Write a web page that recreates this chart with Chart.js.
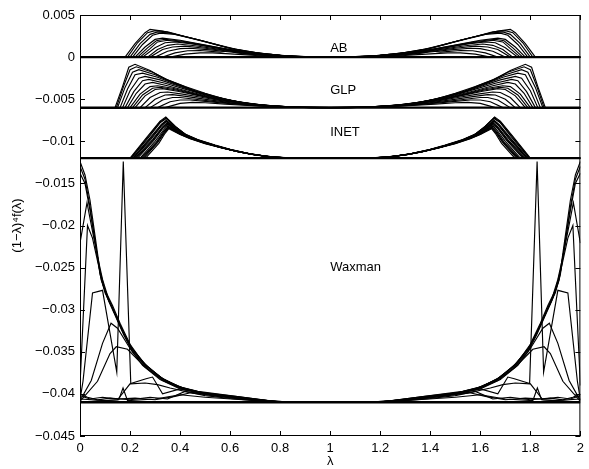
<!DOCTYPE html>
<html>
<head>
<meta charset="utf-8">
<script src="https://cdn.jsdelivr.net/npm/chart.js@4.4.1/dist/chart.umd.min.js"></script>
<style>
  body { margin: 0; background: #fff; }
  canvas { display: block; }
</style>
</head>
<body>
<canvas id="specChart" width="589" height="469"></canvas>
<script>
// axis ticks
const xTicks = [0, 0.2, 0.4, 0.6, 0.8, 1, 1.2, 1.4, 1.6, 1.8, 2];
const xTickLabels = ['0', '0.2', '0.4', '0.6', '0.8', '1', '1.2', '1.4', '1.6', '1.8', '2'];
const yTicks = [0.005, 0, -0.005, -0.01, -0.015, -0.02, -0.025, -0.03, -0.035, -0.04, -0.045];
const yTickLabels = ['0.005', '0', '\u22120.005', '\u22120.01', '\u22120.015', '\u22120.02', '\u22120.025', '\u22120.03', '\u22120.035', '\u22120.04', '\u22120.045'];

// each model is shifted down to its own baseline; curve values are in 1e-3 above it
const groupNames = ['AB', 'GLP', 'INET', 'Waxman'];
const groupBase = [0, -0.006, -0.012, -0.041];
const labelY = [0.001, -0.004, -0.009, -0.025];

// [lambda, value] pairs
const abCurves = [
    [[0,0],[0.18,0],[0.22,1.6],[0.26,2.9],[0.28,3.3],[0.33,3.1],[0.41,2.5],[0.48,2.0],[0.55,1.4],[0.62,0.9],[0.7,0.5],[0.8,0.2],[0.9,0.05],[1.1,0.05],[1.2,0.2],[1.3,0.5],[1.38,0.9],[1.45,1.4],[1.52,2.0],[1.59,2.5],[1.67,3.1],[1.72,3.3],[1.74,2.9],[1.78,1.6],[1.82,0],[2,0]],
    [[0,0],[0.19,0],[0.23,1.7],[0.27,2.9],[0.3,3.15],[0.35,3.0],[0.42,2.45],[0.5,1.85],[0.58,1.2],[0.66,0.7],[0.75,0.35],[0.85,0.1],[1,0],[1.15,0.1],[1.25,0.35],[1.34,0.7],[1.42,1.2],[1.5,1.85],[1.58,2.45],[1.65,3.0],[1.7,3.15],[1.73,2.9],[1.77,1.7],[1.81,0],[2,0]],
    [[0,0],[0.2,0],[0.24,1.6],[0.28,2.7],[0.31,3.0],[0.36,2.85],[0.44,2.3],[0.52,1.7],[0.6,1.05],[0.7,0.55],[0.8,0.2],[0.9,0.04],[1.1,0.04],[1.2,0.2],[1.3,0.55],[1.4,1.05],[1.48,1.7],[1.56,2.3],[1.64,2.85],[1.69,3.0],[1.72,2.7],[1.76,1.6],[1.8,0],[2,0]],
    [[0,0],[0.21,0],[0.25,1.5],[0.29,2.6],[0.32,2.85],[0.38,2.7],[0.45,2.2],[0.53,1.6],[0.62,0.95],[0.72,0.45],[0.82,0.15],[0.92,0.02],[1.08,0.02],[1.18,0.15],[1.28,0.45],[1.38,0.95],[1.47,1.6],[1.55,2.2],[1.62,2.7],[1.68,2.85],[1.71,2.6],[1.75,1.5],[1.79,0],[2,0]],
    [[0,0],[0.22,0],[0.26,1.2],[0.3,2.1],[0.33,2.25],[0.4,2.0],[0.48,1.55],[0.56,1.1],[0.65,0.65],[0.75,0.3],[0.85,0.1],[0.95,0],[1.05,0],[1.15,0.1],[1.25,0.3],[1.35,0.65],[1.44,1.1],[1.52,1.55],[1.6,2.0],[1.67,2.25],[1.7,2.1],[1.74,1.2],[1.78,0],[2,0]],
    [[0,0],[0.23,0],[0.27,1.1],[0.305,1.95],[0.34,2.12],[0.41,1.88],[0.49,1.45],[0.58,0.98],[0.67,0.55],[0.77,0.24],[0.87,0.07],[0.96,0],[1.04,0],[1.13,0.07],[1.23,0.24],[1.33,0.55],[1.42,0.98],[1.51,1.45],[1.59,1.88],[1.66,2.12],[1.695,1.95],[1.73,1.1],[1.77,0],[2,0]],
    [[0,0],[0.24,0],[0.28,1.0],[0.31,1.8],[0.35,2.0],[0.42,1.75],[0.5,1.35],[0.6,0.85],[0.7,0.45],[0.8,0.18],[0.9,0.03],[1.1,0.03],[1.2,0.18],[1.3,0.45],[1.4,0.85],[1.5,1.35],[1.58,1.75],[1.65,2.0],[1.69,1.8],[1.72,1.0],[1.76,0],[2,0]],
    [[0,0],[0.25,0],[0.3,1.1],[0.34,1.7],[0.38,1.8],[0.45,1.55],[0.53,1.15],[0.62,0.7],[0.72,0.35],[0.82,0.12],[0.92,0],[1.08,0],[1.18,0.12],[1.28,0.35],[1.38,0.7],[1.47,1.15],[1.55,1.55],[1.62,1.8],[1.66,1.7],[1.7,1.1],[1.75,0],[2,0]],
    [[0,0],[0.27,0],[0.31,0.9],[0.35,1.4],[0.39,1.55],[0.46,1.35],[0.55,0.95],[0.65,0.55],[0.75,0.25],[0.85,0.08],[0.95,0],[1.05,0],[1.15,0.08],[1.25,0.25],[1.35,0.55],[1.45,0.95],[1.54,1.35],[1.61,1.55],[1.65,1.4],[1.69,0.9],[1.73,0],[2,0]],
    [[0,0],[0.28,0],[0.33,0.9],[0.37,1.2],[0.42,1.3],[0.5,1.05],[0.58,0.75],[0.68,0.4],[0.78,0.15],[0.88,0.03],[1.12,0.03],[1.22,0.15],[1.32,0.4],[1.42,0.75],[1.5,1.05],[1.58,1.3],[1.63,1.2],[1.67,0.9],[1.72,0],[2,0]],
    [[0,0],[0.3,0],[0.35,0.7],[0.4,1.0],[0.44,1.05],[0.52,0.85],[0.6,0.6],[0.7,0.3],[0.8,0.1],[0.9,0],[1.1,0],[1.2,0.1],[1.3,0.3],[1.4,0.6],[1.48,0.85],[1.56,1.05],[1.6,1.0],[1.65,0.7],[1.7,0],[2,0]],
    [[0,0],[0.33,0],[0.38,0.5],[0.43,0.75],[0.48,0.78],[0.56,0.6],[0.6,0.75],[0.62,0.55],[0.65,0.4],[0.75,0.18],[0.85,0.05],[0.95,0],[1.05,0],[1.15,0.05],[1.25,0.18],[1.35,0.4],[1.38,0.55],[1.4,0.75],[1.44,0.6],[1.52,0.78],[1.57,0.75],[1.62,0.5],[1.67,0],[2,0]],
    [[0,0],[0.36,0],[0.42,0.35],[0.48,0.5],[0.53,0.5],[0.6,0.38],[0.7,0.2],[0.76,0.3],[0.8,0.08],[0.9,0],[1.1,0],[1.2,0.08],[1.24,0.3],[1.3,0.2],[1.4,0.38],[1.47,0.5],[1.52,0.5],[1.58,0.35],[1.64,0],[2,0]]
];

const glpCurves = [
    [[0,0],[0.14,0],[0.17,2.5],[0.195,4.8],[0.22,5.15],[0.28,4.4],[0.34,3.4],[0.41,2.6],[0.47,1.85],[0.54,1.25],[0.61,0.8],[0.67,0.45],[0.75,0.2],[0.85,0.05],[1,0],[1.15,0.05],[1.25,0.2],[1.33,0.45],[1.39,0.8],[1.46,1.25],[1.53,1.85],[1.59,2.6],[1.66,3.4],[1.72,4.4],[1.78,5.15],[1.805,4.8],[1.83,2.5],[1.86,0],[2,0]],
    [[0,0],[0.145,0],[0.175,2.6],[0.2,4.5],[0.225,4.85],[0.29,4.2],[0.35,3.3],[0.42,2.5],[0.5,1.7],[0.58,1.0],[0.66,0.5],[0.76,0.2],[0.88,0.03],[1.12,0.03],[1.24,0.2],[1.34,0.5],[1.42,1.0],[1.5,1.7],[1.58,2.5],[1.65,3.3],[1.71,4.2],[1.775,4.85],[1.8,4.5],[1.825,2.6],[1.855,0],[2,0]],
    [[0,0],[0.15,0],[0.18,2.4],[0.21,4.2],[0.235,4.5],[0.3,3.9],[0.37,3.0],[0.45,2.1],[0.53,1.4],[0.61,0.8],[0.7,0.4],[0.8,0.12],[0.9,0.02],[1.1,0.02],[1.2,0.12],[1.3,0.4],[1.39,0.8],[1.47,1.4],[1.55,2.1],[1.63,3.0],[1.7,3.9],[1.765,4.5],[1.79,4.2],[1.82,2.4],[1.85,0],[2,0]],
    [[0,0],[0.16,0],[0.19,2.2],[0.22,3.9],[0.25,4.1],[0.31,3.6],[0.38,2.8],[0.46,1.95],[0.55,1.2],[0.64,0.65],[0.74,0.28],[0.85,0.06],[1,0],[1.15,0.06],[1.26,0.28],[1.36,0.65],[1.45,1.2],[1.54,1.95],[1.62,2.8],[1.69,3.6],[1.75,4.1],[1.78,3.9],[1.81,2.2],[1.84,0],[2,0]],
    [[0,0],[0.17,0],[0.2,2.0],[0.235,3.5],[0.26,3.7],[0.32,3.3],[0.4,2.5],[0.48,1.7],[0.57,1.05],[0.66,0.55],[0.76,0.22],[0.87,0.04],[1.13,0.04],[1.24,0.22],[1.34,0.55],[1.43,1.05],[1.52,1.7],[1.6,2.5],[1.68,3.3],[1.74,3.7],[1.765,3.5],[1.8,2.0],[1.83,0],[2,0]],
    [[0,0],[0.18,0],[0.215,1.9],[0.25,3.2],[0.275,3.35],[0.34,2.9],[0.42,2.2],[0.5,1.5],[0.59,0.9],[0.68,0.45],[0.78,0.18],[0.9,0.02],[1.1,0.02],[1.22,0.18],[1.32,0.45],[1.41,0.9],[1.5,1.5],[1.58,2.2],[1.66,2.9],[1.725,3.35],[1.75,3.2],[1.785,1.9],[1.82,0],[2,0]],
    [[0,0],[0.19,0],[0.225,1.7],[0.26,2.8],[0.29,3.0],[0.35,2.6],[0.43,1.95],[0.51,1.35],[0.6,0.8],[0.7,0.38],[0.8,0.14],[0.92,0],[1.08,0],[1.2,0.14],[1.3,0.38],[1.4,0.8],[1.49,1.35],[1.57,1.95],[1.65,2.6],[1.71,3.0],[1.74,2.8],[1.775,1.7],[1.81,0],[2,0]],
    [[0,0],[0.2,0],[0.24,1.6],[0.28,2.5],[0.31,2.6],[0.37,2.3],[0.45,1.7],[0.53,1.15],[0.62,0.68],[0.72,0.3],[0.82,0.1],[0.93,0],[1.07,0],[1.18,0.1],[1.28,0.3],[1.38,0.68],[1.47,1.15],[1.55,1.7],[1.63,2.3],[1.69,2.6],[1.72,2.5],[1.76,1.6],[1.8,0],[2,0]],
    [[0,0],[0.21,0],[0.25,1.5],[0.29,2.3],[0.32,2.42],[0.38,2.12],[0.46,1.58],[0.54,1.06],[0.63,0.62],[0.73,0.27],[0.84,0.08],[0.96,0],[1.04,0],[1.16,0.08],[1.27,0.27],[1.37,0.62],[1.46,1.06],[1.54,1.58],[1.62,2.12],[1.68,2.42],[1.71,2.3],[1.75,1.5],[1.79,0],[2,0]],
    [[0,0],[0.22,0],[0.26,1.4],[0.3,2.15],[0.33,2.25],[0.39,1.95],[0.47,1.45],[0.55,0.98],[0.64,0.55],[0.74,0.24],[0.85,0.06],[1,0],[1.15,0.06],[1.26,0.24],[1.36,0.55],[1.45,0.98],[1.53,1.45],[1.61,1.95],[1.67,2.25],[1.7,2.15],[1.74,1.4],[1.78,0],[2,0]],
    [[0,0],[0.24,0],[0.28,1.2],[0.32,1.8],[0.35,1.85],[0.41,1.6],[0.49,1.2],[0.57,0.8],[0.66,0.45],[0.76,0.18],[0.88,0.02],[1.12,0.02],[1.24,0.18],[1.34,0.45],[1.43,0.8],[1.51,1.2],[1.59,1.6],[1.65,1.85],[1.68,1.8],[1.72,1.2],[1.76,0],[2,0]],
    [[0,0],[0.26,0],[0.3,1.0],[0.34,1.5],[0.37,1.55],[0.43,1.3],[0.51,0.95],[0.6,0.6],[0.7,0.3],[0.8,0.1],[0.92,0],[1.08,0],[1.2,0.1],[1.3,0.3],[1.4,0.6],[1.49,0.95],[1.57,1.3],[1.63,1.55],[1.66,1.5],[1.7,1.0],[1.74,0],[2,0]],
    [[0,0],[0.28,0],[0.33,0.9],[0.37,1.2],[0.4,1.2],[0.46,1.0],[0.54,0.72],[0.63,0.45],[0.73,0.2],[0.83,0.06],[0.95,0],[1.05,0],[1.17,0.06],[1.27,0.2],[1.37,0.45],[1.46,0.72],[1.54,1.0],[1.6,1.2],[1.63,1.2],[1.67,0.9],[1.72,0],[2,0]],
    [[0,0],[0.31,0],[0.36,0.7],[0.4,0.9],[0.44,0.9],[0.5,0.75],[0.58,0.52],[0.67,0.3],[0.77,0.12],[0.88,0.02],[1.12,0.02],[1.23,0.12],[1.33,0.3],[1.42,0.52],[1.5,0.75],[1.56,0.9],[1.6,0.9],[1.64,0.7],[1.69,0],[2,0]],
    [[0,0],[0.34,0],[0.4,0.5],[0.45,0.62],[0.5,0.58],[0.58,0.42],[0.67,0.25],[0.77,0.1],[0.87,0.02],[1.13,0.02],[1.23,0.1],[1.33,0.25],[1.42,0.42],[1.5,0.58],[1.55,0.62],[1.6,0.5],[1.66,0],[2,0]]
];

const inetCurves = [
    [[0,0],[0.2,0],[0.27,2.6],[0.32,4.4],[0.343,4.9],[0.38,3.8],[0.42,2.85],[0.47,2.2],[0.54,1.55],[0.6,1.05],[0.67,0.58],[0.74,0.24],[0.8,0.06],[0.9,0],[1.1,0],[1.2,0.06],[1.26,0.24],[1.33,0.58],[1.4,1.05],[1.46,1.55],[1.53,2.2],[1.58,2.85],[1.62,3.8],[1.657,4.9],[1.68,4.4],[1.73,2.6],[1.8,0],[2,0]],
    [[0,0],[0.2025,0],[0.272,2.55],[0.32,4.3],[0.344,4.8],[0.383,3.7],[0.422,2.8],[0.47,2.18],[0.54,1.52],[0.6,1.02],[0.67,0.56],[0.74,0.23],[0.8,0.05],[0.9,0],[1.1,0],[1.2,0.05],[1.26,0.23],[1.33,0.56],[1.4,1.02],[1.46,1.52],[1.53,2.18],[1.578,2.8],[1.617,3.7],[1.656,4.8],[1.68,4.3],[1.728,2.55],[1.7975,0],[2,0]],
    [[0,0],[0.205,0],[0.275,2.5],[0.32,4.2],[0.345,4.7],[0.385,3.6],[0.425,2.75],[0.47,2.15],[0.54,1.5],[0.6,1.0],[0.67,0.55],[0.74,0.22],[0.8,0.05],[0.9,0],[1.1,0],[1.2,0.05],[1.26,0.22],[1.33,0.55],[1.4,1.0],[1.46,1.5],[1.53,2.15],[1.575,2.75],[1.615,3.6],[1.655,4.7],[1.68,4.2],[1.725,2.5],[1.795,0],[2,0]],
    [[0,0],[0.21,0],[0.28,2.4],[0.325,4.0],[0.345,4.5],[0.385,3.5],[0.425,2.7],[0.48,2.05],[0.55,1.42],[0.61,0.95],[0.68,0.5],[0.75,0.2],[0.82,0.04],[0.92,0],[1.08,0],[1.18,0.04],[1.25,0.2],[1.32,0.5],[1.39,0.95],[1.45,1.42],[1.52,2.05],[1.575,2.7],[1.615,3.5],[1.655,4.5],[1.675,4.0],[1.72,2.4],[1.79,0],[2,0]],
    [[0,0],[0.2125,0],[0.282,2.35],[0.325,3.9],[0.345,4.42],[0.387,3.4],[0.428,2.65],[0.48,2.02],[0.55,1.41],[0.61,0.93],[0.68,0.49],[0.75,0.19],[0.82,0.03],[0.92,0],[1.08,0],[1.18,0.03],[1.25,0.19],[1.32,0.49],[1.39,0.93],[1.45,1.41],[1.52,2.02],[1.572,2.65],[1.613,3.4],[1.655,4.42],[1.675,3.9],[1.718,2.35],[1.7875,0],[2,0]],
    [[0,0],[0.215,0],[0.285,2.3],[0.325,3.8],[0.345,4.35],[0.39,3.3],[0.43,2.6],[0.48,2.0],[0.55,1.4],[0.61,0.92],[0.68,0.48],[0.75,0.18],[0.82,0.03],[0.92,0],[1.08,0],[1.18,0.03],[1.25,0.18],[1.32,0.48],[1.39,0.92],[1.45,1.4],[1.52,2.0],[1.57,2.6],[1.61,3.3],[1.655,4.35],[1.675,3.8],[1.715,2.3],[1.785,0],[2,0]],
    [[0,0],[0.22,0],[0.29,2.2],[0.33,3.7],[0.348,4.2],[0.39,3.2],[0.43,2.55],[0.49,1.9],[0.55,1.38],[0.62,0.85],[0.69,0.45],[0.76,0.16],[0.83,0.03],[0.93,0],[1.07,0],[1.17,0.03],[1.24,0.16],[1.31,0.45],[1.38,0.85],[1.45,1.38],[1.51,1.9],[1.57,2.55],[1.61,3.2],[1.652,4.2],[1.67,3.7],[1.71,2.2],[1.78,0],[2,0]],
    [[0,0],[0.225,0],[0.292,2.15],[0.33,3.6],[0.349,4.1],[0.39,3.15],[0.43,2.52],[0.49,1.89],[0.555,1.34],[0.62,0.85],[0.69,0.45],[0.76,0.16],[0.835,0.02],[0.935,0],[1.065,0],[1.165,0.02],[1.24,0.16],[1.31,0.45],[1.38,0.85],[1.445,1.34],[1.51,1.89],[1.57,2.52],[1.61,3.15],[1.651,4.1],[1.67,3.6],[1.708,2.15],[1.775,0],[2,0]],
    [[0,0],[0.23,0],[0.295,2.1],[0.33,3.5],[0.35,4.0],[0.39,3.1],[0.43,2.5],[0.49,1.88],[0.56,1.3],[0.62,0.85],[0.69,0.44],[0.76,0.16],[0.84,0.02],[0.94,0],[1.06,0],[1.16,0.02],[1.24,0.16],[1.31,0.44],[1.38,0.85],[1.44,1.3],[1.51,1.88],[1.57,2.5],[1.61,3.1],[1.65,4.0],[1.67,3.5],[1.705,2.1],[1.77,0],[2,0]],
    [[0,0],[0.24,0],[0.3,2.0],[0.335,3.4],[0.35,3.85],[0.395,3.0],[0.435,2.45],[0.5,1.8],[0.56,1.28],[0.63,0.8],[0.7,0.4],[0.77,0.14],[0.85,0.02],[0.95,0],[1.05,0],[1.15,0.02],[1.23,0.14],[1.3,0.4],[1.37,0.8],[1.44,1.28],[1.5,1.8],[1.565,2.45],[1.605,3.0],[1.65,3.85],[1.665,3.4],[1.7,2.0],[1.76,0],[2,0]],
    [[0,0],[0.245,0],[0.305,1.9],[0.335,3.2],[0.352,3.7],[0.4,2.9],[0.44,2.4],[0.5,1.78],[0.57,1.22],[0.63,0.78],[0.7,0.38],[0.77,0.13],[0.85,0.02],[0.95,0],[1.05,0],[1.15,0.02],[1.23,0.13],[1.3,0.38],[1.37,0.78],[1.43,1.22],[1.5,1.78],[1.56,2.4],[1.6,2.9],[1.648,3.7],[1.665,3.2],[1.695,1.9],[1.755,0],[2,0]],
    [[0,0],[0.25,0],[0.308,1.88],[0.338,3.15],[0.353,3.65],[0.4,2.88],[0.44,2.38],[0.5,1.77],[0.57,1.21],[0.635,0.75],[0.705,0.37],[0.775,0.13],[0.855,0.02],[0.955,0],[1.045,0],[1.145,0.02],[1.225,0.13],[1.295,0.37],[1.365,0.75],[1.43,1.21],[1.5,1.77],[1.56,2.38],[1.6,2.88],[1.647,3.65],[1.662,3.15],[1.692,1.88],[1.75,0],[2,0]],
    [[0,0],[0.255,0],[0.31,1.85],[0.34,3.1],[0.355,3.6],[0.4,2.85],[0.44,2.35],[0.5,1.75],[0.57,1.2],[0.64,0.72],[0.71,0.35],[0.78,0.12],[0.86,0.01],[0.96,0],[1.04,0],[1.14,0.01],[1.22,0.12],[1.29,0.35],[1.36,0.72],[1.43,1.2],[1.5,1.75],[1.56,2.35],[1.6,2.85],[1.645,3.6],[1.66,3.1],[1.69,1.85],[1.745,0],[2,0]],
    [[0,0],[0.262,0],[0.315,1.75],[0.34,2.95],[0.355,3.5],[0.4,2.8],[0.44,2.3],[0.5,1.72],[0.57,1.18],[0.64,0.7],[0.71,0.34],[0.78,0.11],[0.86,0.01],[0.96,0],[1.04,0],[1.14,0.01],[1.22,0.11],[1.29,0.34],[1.36,0.7],[1.43,1.18],[1.5,1.72],[1.56,2.3],[1.6,2.8],[1.645,3.5],[1.66,2.95],[1.685,1.75],[1.738,0],[2,0]]
];

const waxmanCurves = [
    [[0,28.6],[0.02,27.0],[0.04,24.0],[0.06,19.8],[0.08,15.6],[0.1,13.3],[0.13,11.5],[0.16,9.4],[0.2,6.9],[0.25,4.8],[0.32,3.0],[0.39,1.9],[0.47,1.3],[0.6,0.8],[0.75,0.2],[0.85,0],[1.15,0],[1.25,0.2],[1.4,0.8],[1.53,1.3],[1.61,1.9],[1.68,3.0],[1.75,4.8],[1.8,6.9],[1.84,9.4],[1.87,11.5],[1.9,13.3],[1.92,15.6],[1.94,19.8],[1.96,24.0],[1.98,27.0],[2,28.6]],
    [[0,28.0],[0.02,26.5],[0.04,23.2],[0.06,19.2],[0.08,15.2],[0.1,13.0],[0.13,11.2],[0.16,9.1],[0.2,6.7],[0.26,4.5],[0.33,2.8],[0.4,1.8],[0.48,1.2],[0.62,0.7],[0.77,0.15],[0.87,0],[1.13,0],[1.23,0.15],[1.38,0.7],[1.52,1.2],[1.6,1.8],[1.67,2.8],[1.74,4.5],[1.8,6.7],[1.84,9.1],[1.87,11.2],[1.9,13.0],[1.92,15.2],[1.94,19.2],[1.96,23.2],[1.98,26.5],[2,28.0]],
    [[0,27.2],[0.02,26.0],[0.04,22.8],[0.065,18.2],[0.085,14.5],[0.11,12.4],[0.14,10.5],[0.17,8.5],[0.21,6.3],[0.27,4.2],[0.34,2.6],[0.42,1.6],[0.5,1.0],[0.64,0.6],[0.78,0.1],[0.88,0],[1.12,0],[1.22,0.1],[1.36,0.6],[1.5,1.0],[1.58,1.6],[1.66,2.6],[1.73,4.2],[1.79,6.3],[1.83,8.5],[1.86,10.5],[1.89,12.4],[1.915,14.5],[1.935,18.2],[1.96,22.8],[1.98,26.0],[2,27.2]],
    [[0,18.9],[0.028,23.7],[0.05,20.3],[0.07,17.3],[0.09,14.6],[0.115,12.2],[0.145,10.2],[0.175,8.2],[0.21,6.2],[0.26,4.4],[0.33,2.8],[0.41,1.7],[0.5,1.1],[0.65,0.5],[0.8,0.05],[0.9,0],[1.1,0],[1.2,0.05],[1.35,0.5],[1.5,1.1],[1.59,1.7],[1.67,2.8],[1.74,4.4],[1.79,6.2],[1.825,8.2],[1.855,10.2],[1.885,12.2],[1.91,14.6],[1.93,17.3],[1.95,20.3],[1.972,23.7],[2,18.9]],
    [[0,2.0],[0.03,21.0],[0.05,19.5],[0.07,16.8],[0.09,14.2],[0.115,12.0],[0.145,10.0],[0.175,8.0],[0.21,6.0],[0.27,4.0],[0.34,2.5],[0.42,1.5],[0.52,0.9],[0.66,0.4],[0.8,0.05],[0.9,0],[1.1,0],[1.2,0.05],[1.34,0.4],[1.48,0.9],[1.58,1.5],[1.66,2.5],[1.73,4.0],[1.79,6.0],[1.825,8.0],[1.855,10.0],[1.885,12.0],[1.91,14.2],[1.93,16.8],[1.95,19.5],[1.97,21.0],[2,2.0]],
    [[0,0.3],[0.012,2.5],[0.05,13.0],[0.09,13.3],[0.147,3.6],[0.173,28.6],[0.203,2.2],[0.26,2.3],[0.31,2.1],[0.36,1.7],[0.45,1.1],[0.6,0.6],[0.75,0.1],[0.85,0],[1.15,0],[1.25,0.1],[1.4,0.6],[1.55,1.1],[1.64,1.7],[1.69,2.1],[1.74,2.3],[1.797,2.2],[1.827,28.6],[1.853,3.6],[1.91,13.3],[1.95,13.0],[1.988,2.5],[2,0.3]],
    [[0,0.2],[0.045,2.6],[0.09,7.0],[0.124,9.4],[0.15,8.8],[0.2,6.4],[0.25,4.4],[0.32,2.7],[0.4,1.6],[0.5,1.0],[0.65,0.4],[0.8,0.05],[0.9,0],[1.1,0],[1.2,0.05],[1.35,0.4],[1.5,1.0],[1.6,1.6],[1.68,2.7],[1.75,4.4],[1.8,6.4],[1.85,8.8],[1.876,9.4],[1.91,7.0],[1.955,2.6],[2,0.2]],
    [[0,0.1],[0.07,2.5],[0.12,5.8],[0.145,6.6],[0.19,6.3],[0.26,4.2],[0.33,2.6],[0.4,1.7],[0.5,1.05],[0.65,0.45],[0.8,0.05],[0.9,0],[1.1,0],[1.2,0.05],[1.35,0.45],[1.5,1.05],[1.6,1.7],[1.67,2.6],[1.74,4.2],[1.81,6.3],[1.855,6.6],[1.88,5.8],[1.93,2.5],[2,0.1]],
    [[0,0],[0.15,0.3],[0.2,2.2],[0.264,2.8],[0.29,3.0],[0.33,1.0],[0.4,1.6],[0.5,1.0],[0.62,0.5],[0.75,0.1],[0.85,0],[1.15,0],[1.25,0.1],[1.38,0.5],[1.5,1.0],[1.6,1.6],[1.67,1.0],[1.71,3.0],[1.736,2.8],[1.8,2.2],[1.85,0.3],[2,0]],
    [[0,0.4],[0.1,0.2],[0.155,0.3],[0.172,1.7],[0.19,0.2],[0.3,0.4],[0.4,0.9],[0.5,0.6],[0.65,0.3],[0.8,0.05],[0.9,0],[1.1,0],[1.2,0.05],[1.35,0.3],[1.5,0.6],[1.6,0.9],[1.7,0.4],[1.81,0.2],[1.828,1.7],[1.845,0.3],[1.9,0.2],[2,0.4]],
    [[0,0.8],[0.04,0.4],[0.09,0.6],[0.15,0.4],[0.22,0.5],[0.3,0.3],[0.38,0.7],[0.45,1.2],[0.55,0.7],[0.7,0.25],[0.85,0],[1.15,0],[1.3,0.25],[1.45,0.7],[1.55,1.2],[1.62,0.7],[1.7,0.3],[1.78,0.5],[1.85,0.4],[1.91,0.6],[1.96,0.4],[2,0.8]],
    [[0,1.0],[0.03,0.6],[0.07,0.3],[0.12,0.5],[0.2,0.3],[0.28,0.6],[0.35,0.4],[0.42,1.3],[0.5,0.8],[0.6,0.45],[0.7,0.2],[0.85,0],[1.15,0],[1.3,0.2],[1.4,0.45],[1.5,0.8],[1.58,1.3],[1.65,0.4],[1.72,0.6],[1.8,0.3],[1.88,0.5],[1.93,0.3],[1.97,0.6],[2,1.0]]
];

const groupCurves = [abCurves, glpCurves, inetCurves, waxmanCurves];

const FONT = "'Liberation Sans', Arial, Helvetica, sans-serif";

const datasets = [];
groupCurves.forEach((curves, g) => {
    curves.forEach(pts => {
        datasets.push({
            data: pts.map(p => ({ x: p[0], y: groupBase[g] + p[1] / 1000 })),
            borderColor: '#000',
            borderWidth: 1.15,
            pointRadius: 0,
            tension: 0,
            fill: false
        });
    });
    // heavy baseline where all curves of the model sit on top of each other
    datasets.push({
        data: [{ x: 0, y: groupBase[g] }, { x: 2, y: groupBase[g] }],
        borderColor: '#000',
        borderWidth: 2.4,
        pointRadius: 0,
        fill: false
    });
});

// box around the plot, inward ticks on all four sides, model names
const frameBox = {
    id: 'frameBox',
    afterDraw(chart) {
        const { ctx, chartArea: a, scales: { x, y } } = chart;
        ctx.save();
        ctx.strokeStyle = '#000';
        ctx.lineWidth = 1;
        ctx.strokeRect(a.left + 0.5, a.top + 0.5, a.right - a.left - 1, a.bottom - a.top - 1);
        ctx.beginPath();
        xTicks.forEach(v => {
            const px = Math.round(x.getPixelForValue(v)) + 0.5;
            ctx.moveTo(px, a.bottom);
            ctx.lineTo(px, a.bottom - 5);
            ctx.moveTo(px, a.top);
            ctx.lineTo(px, a.top + 5);
        });
        yTicks.forEach(v => {
            const py = Math.round(y.getPixelForValue(v)) + 0.5;
            ctx.moveTo(a.left, py);
            ctx.lineTo(a.left + 5, py);
            ctx.moveTo(a.right, py);
            ctx.lineTo(a.right - 5, py);
        });
        ctx.stroke();

        ctx.fillStyle = '#000';
        ctx.font = '13px ' + FONT;
        ctx.textAlign = 'left';
        ctx.textBaseline = 'middle';
        groupNames.forEach((name, g) => {
            ctx.fillText(name, x.getPixelForValue(1), y.getPixelForValue(labelY[g]));
        });
        ctx.restore();
    }
};

const ctx = document.getElementById('specChart').getContext('2d');
const specChart = new Chart(ctx, {
    type: 'line',
    data: { datasets: datasets },
    options: {
        responsive: false,
        animation: false,
        layout: { padding: { left: 0, right: 4, top: 15, bottom: 0 } },
        plugins: {
            legend: { display: false },
            tooltip: { enabled: false }
        },
        scales: {
            x: {
                type: 'linear',
                min: 0,
                max: 2,
                afterBuildTicks: scale => { scale.ticks = xTicks.map(v => ({ value: v })); },
                afterFit: scale => { scale.height = 33; },
                grid: { display: false, drawTicks: false },
                border: { display: false },
                ticks: {
                    color: '#000',
                    font: { family: FONT, size: 13 },
                    padding: 5,
                    maxRotation: 0,
                    autoSkip: false,
                    callback: (v, i) => xTickLabels[i]
                },
                title: {
                    display: true,
                    text: '\u03bb',
                    color: '#000',
                    font: { family: FONT, size: 13 },
                    padding: { top: 0, bottom: 0 }
                }
            },
            y: {
                type: 'linear',
                min: -0.045,
                max: 0.005,
                afterBuildTicks: scale => { scale.ticks = yTicks.map(v => ({ value: v })); },
                afterFit: scale => { scale.width = 80; },
                grid: { display: false, drawTicks: false },
                border: { display: false },
                ticks: {
                    color: '#000',
                    font: { family: FONT, size: 13 },
                    padding: 5,
                    autoSkip: false,
                    callback: (v, i) => yTickLabels[i]
                },
                title: {
                    display: true,
                    text: '(1\u2212\u03bb)\u2074f(\u03bb)',
                    color: '#000',
                    font: { family: FONT, size: 13 },
                    padding: { top: 10, bottom: 0 }
                }
            }
        }
    },
    plugins: [frameBox]
});
</script>
</body>
</html>
